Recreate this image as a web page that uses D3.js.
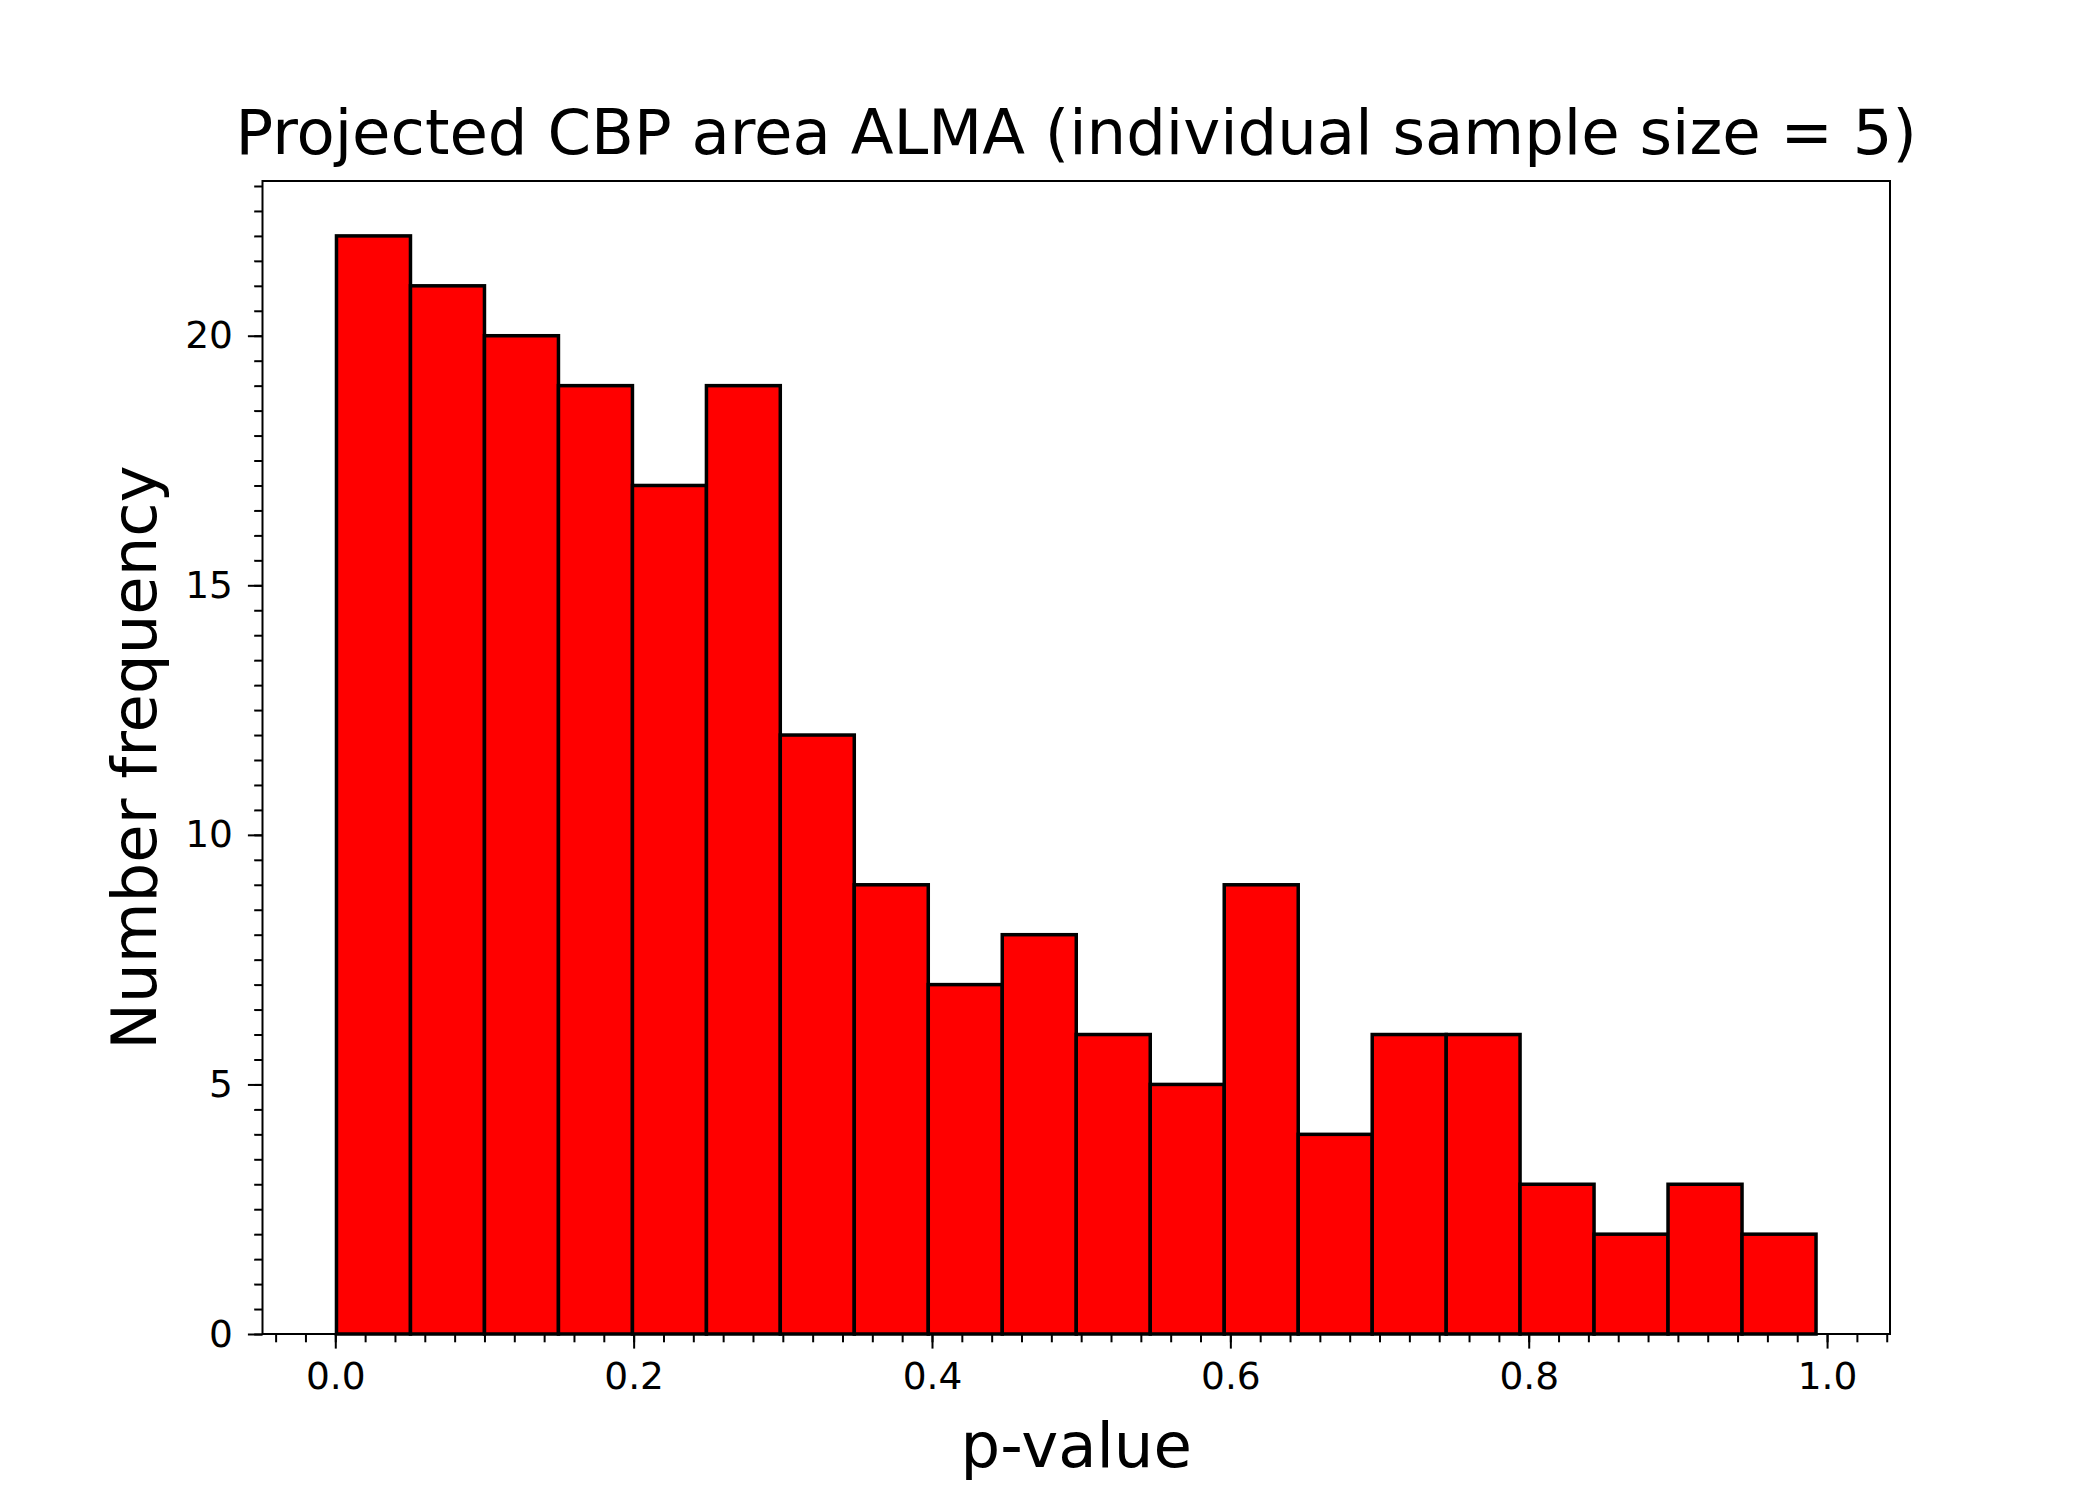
<!DOCTYPE html>
<html>
<head>
<meta charset="utf-8">
<script src="https://cdn.jsdelivr.net/npm/d3@7"></script>
<style>
  html, body { margin: 0; padding: 0; background: #fff; }
  text { font-family: "DejaVu Sans", sans-serif; fill: #000; }
</style>
</head>
<body>
<svg id="chart" width="2100" height="1500"></svg>
<script>
// ---- data ----
const binEdges = [0.0008, 0.0504, 0.1000, 0.1496, 0.1992, 0.2488, 0.2983, 0.3479, 0.3975, 0.4471,
                  0.4967, 0.5463, 0.5959, 0.6455, 0.6951, 0.7447, 0.7942, 0.8438, 0.8934, 0.9430, 0.9926];
const counts = [22, 21, 20, 19, 17, 19, 12, 9, 7, 8, 6, 5, 9, 4, 6, 6, 3, 2, 3, 2];
const xTicks = [0.0, 0.2, 0.4, 0.6, 0.8, 1.0];
const xTickLabels = ["0.0", "0.2", "0.4", "0.6", "0.8", "1.0"];
const yTicks = [0, 5, 10, 15, 20];
const yTickLabels = ["0", "5", "10", "15", "20"];
const titleText = "Projected CBP area ALMA (individual sample size = 5)";
const xLabelText = "p-value";
const yLabelText = "Number frequency";

// ---- layout ----
const L = 262.5, R = 1890, T = 181, B = 1334;
const dMin = binEdges[0], dMax = binEdges[binEdges.length - 1];
const xm = 0.05 * (dMax - dMin);
const x = d3.scaleLinear().domain([dMin - xm, dMax + xm]).range([L, R]);
const yMax = d3.max(counts) * 1.05;
const y = d3.scaleLinear().domain([0, yMax]).range([B, T]);

const bins = counts.map((c, i) => ({ x0: binEdges[i], x1: binEdges[i + 1], c }));

const svg = d3.select("#chart");
svg.append("rect").attr("width", 2100).attr("height", 1500).attr("fill", "#fff");

// bars
svg.append("g").selectAll("rect").data(bins).join("rect")
  .attr("x", d => x(d.x0))
  .attr("y", d => y(d.c))
  .attr("width", d => x(d.x1) - x(d.x0))
  .attr("height", d => y(0) - y(d.c))
  .attr("fill", "#ff0000")
  .attr("stroke", "#000")
  .attr("stroke-width", 3.5);

// x axis major
const xAxis = d3.axisBottom(x).tickValues(xTicks)
  .tickFormat((d, i) => xTickLabels[i]).tickSize(14.6).tickPadding(14);
const gx = svg.append("g").attr("transform", `translate(0,${B})`).call(xAxis);
// x minor
const xMinor = d3.range(-4, 105, 2).map(v => v / 100).filter(v => x(v) >= L - 0.5 && x(v) <= R + 0.5);
const gxm = svg.append("g").attr("transform", `translate(0,${B})`)
  .call(d3.axisBottom(x).tickValues(xMinor).tickSize(8.3).tickFormat(""));

// y axis major
const yAxis = d3.axisLeft(y).tickValues(yTicks)
  .tickFormat((d, i) => yTickLabels[i]).tickSize(14.6).tickPadding(15);
const gy = svg.append("g").attr("transform", `translate(${L},0)`).call(yAxis);
const yMinor = d3.range(0, 47, 1).map(v => v / 2).filter(v => v <= yMax);
const gym = svg.append("g").attr("transform", `translate(${L},0)`)
  .call(d3.axisLeft(y).tickValues(yMinor).tickSize(8.3).tickFormat(""));

[gx, gxm, gy, gym].forEach(g => {
  g.select(".domain").remove();
  g.selectAll(".tick line").attr("stroke", "#000").attr("stroke-width", 2);
  g.selectAll(".tick text").style("font-family", '"DejaVu Sans", sans-serif')
    .attr("font-size", 37.5).attr("fill", "#000");
});
gx.selectAll(".tick text").attr("dy", "0.71em");

// spines
svg.append("rect").attr("x", L).attr("y", T).attr("width", R - L).attr("height", B - T)
  .attr("fill", "none").attr("stroke", "#000").attr("stroke-width", 2);

// title and labels
const cx = (L + R) / 2;
svg.append("text").attr("x", cx).attr("y", 154).attr("text-anchor", "middle")
  .attr("font-size", 62.5).text(titleText);
svg.append("text").attr("x", cx).attr("y", 1467).attr("text-anchor", "middle")
  .attr("font-size", 62.5).text(xLabelText);
svg.append("text").attr("transform", `translate(156,${(T + B) / 2}) rotate(-90)`)
  .attr("text-anchor", "middle").attr("font-size", 62.5).text(yLabelText);
</script>
</body>
</html>
